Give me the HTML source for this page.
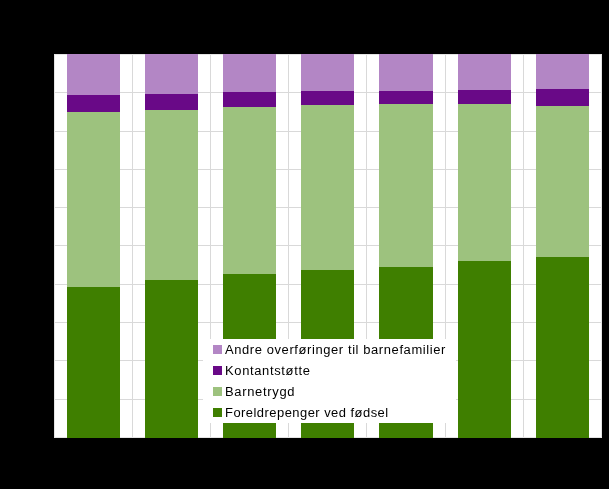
<!DOCTYPE html>
<html><head><meta charset="utf-8"><style>
html,body{margin:0;padding:0;background:#000;width:609px;height:489px;overflow:hidden}
#c{position:relative;width:609px;height:489px;background:#000}
#c div{position:absolute}
.t{position:absolute;font-family:"Liberation Sans",sans-serif;font-size:12px;line-height:15px;letter-spacing:0.5px;transform:scaleX(1.08);transform-origin:0 0;color:#000;white-space:nowrap;will-change:transform}
</style></head><body><div id="c">
<div style="left:54px;top:54px;width:548px;height:384px;background:#e4e4e4"></div>
<div style="left:55px;top:55px;width:546px;height:382px;background:#fff"></div>
<div style="left:55px;top:92px;width:546px;height:1px;background:#d9d9d9"></div>
<div style="left:55px;top:131px;width:546px;height:1px;background:#d9d9d9"></div>
<div style="left:55px;top:169px;width:546px;height:1px;background:#d9d9d9"></div>
<div style="left:55px;top:207px;width:546px;height:1px;background:#d9d9d9"></div>
<div style="left:55px;top:245px;width:546px;height:1px;background:#d9d9d9"></div>
<div style="left:55px;top:284px;width:546px;height:1px;background:#d9d9d9"></div>
<div style="left:55px;top:322px;width:546px;height:1px;background:#d9d9d9"></div>
<div style="left:55px;top:360px;width:546px;height:1px;background:#d9d9d9"></div>
<div style="left:55px;top:399px;width:546px;height:1px;background:#d9d9d9"></div>
<div style="left:132px;top:55px;width:1px;height:382px;background:#d9d9d9"></div>
<div style="left:210px;top:55px;width:1px;height:382px;background:#d9d9d9"></div>
<div style="left:288px;top:55px;width:1px;height:382px;background:#d9d9d9"></div>
<div style="left:366px;top:55px;width:1px;height:382px;background:#d9d9d9"></div>
<div style="left:445px;top:55px;width:1px;height:382px;background:#d9d9d9"></div>
<div style="left:523px;top:55px;width:1px;height:382px;background:#d9d9d9"></div>
<div style="left:67px;top:54px;width:53px;height:41px;background:#b386c5"></div>
<div style="left:67px;top:95px;width:53px;height:17px;background:#690987"></div>
<div style="left:67px;top:112px;width:53px;height:175px;background:#9dc27e"></div>
<div style="left:67px;top:287px;width:53px;height:151px;background:#3f7f00"></div>
<div style="left:145px;top:54px;width:53px;height:40px;background:#b386c5"></div>
<div style="left:145px;top:94px;width:53px;height:16px;background:#690987"></div>
<div style="left:145px;top:110px;width:53px;height:170px;background:#9dc27e"></div>
<div style="left:145px;top:280px;width:53px;height:158px;background:#3f7f00"></div>
<div style="left:223px;top:54px;width:53px;height:38px;background:#b386c5"></div>
<div style="left:223px;top:92px;width:53px;height:15px;background:#690987"></div>
<div style="left:223px;top:107px;width:53px;height:167px;background:#9dc27e"></div>
<div style="left:223px;top:274px;width:53px;height:164px;background:#3f7f00"></div>
<div style="left:301px;top:54px;width:53px;height:37px;background:#b386c5"></div>
<div style="left:301px;top:91px;width:53px;height:14px;background:#690987"></div>
<div style="left:301px;top:105px;width:53px;height:165px;background:#9dc27e"></div>
<div style="left:301px;top:270px;width:53px;height:168px;background:#3f7f00"></div>
<div style="left:379px;top:54px;width:54px;height:37px;background:#b386c5"></div>
<div style="left:379px;top:91px;width:54px;height:13px;background:#690987"></div>
<div style="left:379px;top:104px;width:54px;height:163px;background:#9dc27e"></div>
<div style="left:379px;top:267px;width:54px;height:171px;background:#3f7f00"></div>
<div style="left:458px;top:54px;width:53px;height:36px;background:#b386c5"></div>
<div style="left:458px;top:90px;width:53px;height:14px;background:#690987"></div>
<div style="left:458px;top:104px;width:53px;height:157px;background:#9dc27e"></div>
<div style="left:458px;top:261px;width:53px;height:177px;background:#3f7f00"></div>
<div style="left:536px;top:54px;width:53px;height:35px;background:#b386c5"></div>
<div style="left:536px;top:89px;width:53px;height:17px;background:#690987"></div>
<div style="left:536px;top:106px;width:53px;height:151px;background:#9dc27e"></div>
<div style="left:536px;top:257px;width:53px;height:181px;background:#3f7f00"></div>
<div style="left:203px;top:339px;width:253px;height:84px;background:#fff"></div>
<div style="left:213px;top:345px;width:9px;height:9px;background:#b386c5"></div>
<span class="t" style="left:225px;top:343px;letter-spacing:0.55px">Andre overføringer til barnefamilier</span>
<div style="left:213px;top:366px;width:9px;height:9px;background:#690987"></div>
<span class="t" style="left:225px;top:364px;letter-spacing:0.6px">Kontantstøtte</span>
<div style="left:213px;top:387px;width:9px;height:9px;background:#9dc27e"></div>
<span class="t" style="left:225px;top:385px;letter-spacing:0.63px">Barnetrygd</span>
<div style="left:213px;top:408px;width:9px;height:9px;background:#3f7f00"></div>
<span class="t" style="left:225px;top:406px;letter-spacing:0.43px">Foreldrepenger ved fødsel</span>
</div></body></html>
